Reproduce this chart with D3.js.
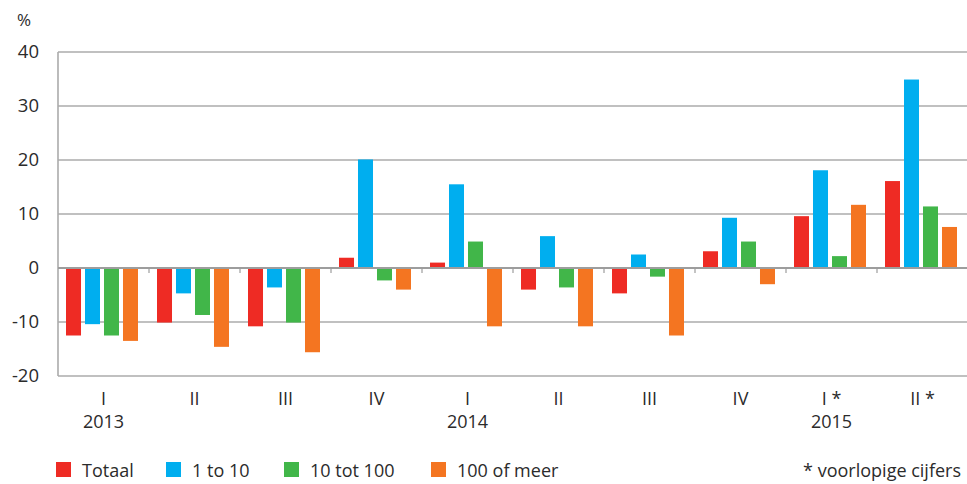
<!DOCTYPE html>
<html>
<head>
<meta charset="utf-8">
<script src="https://cdn.jsdelivr.net/npm/d3@7"></script>
<style>
  body { margin: 0; background: #fff; }
  text { font-family: "Open Sans", "Noto Sans", sans-serif; fill: #2b2b2b; }
</style>
</head>
<body>
<svg id="chart" width="967" height="484"></svg>
<script>
// ---data---
var quarters = ["I", "II", "III", "IV", "I", "II", "III", "IV", "I *", "II *"]
var years = ["2013", "", "", "", "2014", "", "", "", "2015", ""]
var seriesNames = ["Totaal", "1 to 10", "10 tot 100", "100 of meer"]
var seriesColors = ["#ee2b24", "#00aeef", "#41b649", "#f47521"]
var totaal     = [-12.5, -10.1, -10.8,  1.9,  1.0, -4.0, -4.7,  3.1,  9.6, 16.1]
var een_tot10  = [-10.4,  -4.7,  -3.6, 20.1, 15.5,  5.9,  2.5,  9.3, 18.1, 34.9]
var tien_tot100= [-12.5,  -8.7, -10.1, -2.3,  4.9, -3.6, -1.6,  4.9,  2.2, 11.4]
var honderdPlus= [-13.5, -14.6, -15.6, -4.0, -10.8, -10.8, -12.5, -3.0, 11.7, 7.6]
var yTicks = [-20, -10, 0, 10, 20, 30, 40]

var seriesValues = [totaal, een_tot10, tien_tot100, honderdPlus]

var svg = d3.select("#chart")
var plotLeft = 58, plotRight = 968, plotTop = 52, plotBottom = 376

var x0 = d3.scaleBand().domain(d3.range(quarters.length)).range([plotLeft, plotRight])
var x1 = d3.scaleBand().domain(d3.range(seriesNames.length)).range([8, 80]).paddingInner(0.21)
var y = d3.scaleLinear().domain([-20, 40]).range([plotBottom, plotTop])

//---grid---
svg.append("g").selectAll("line").data(yTicks.filter(function(d){ return d != 0 }))
  .enter().append("line")
  .attr("x1", plotLeft).attr("x2", plotRight)
  .attr("y1", function(d){ return y(d) }).attr("y2", function(d){ return y(d) })
  .attr("stroke", "#ababab").attr("stroke-width", 1.6)

svg.append("line")
  .attr("x1", plotLeft).attr("x2", plotLeft).attr("y1", y(40)).attr("y2", y(-20))
  .attr("stroke", "#ababab").attr("stroke-width", 1.6)

//---y labels---
svg.append("g").selectAll("text").data(yTicks).enter().append("text")
  .attr("x", 39).attr("y", function(d){ return y(d) + 6 })
  .attr("text-anchor", "end").attr("font-size", 18.5)
  .text(function(d){ return d })
svg.append("text").attr("x", 17).attr("y", 26).attr("font-size", 17).text("%")

//---bars---
var groups = svg.append("g").selectAll("g").data(quarters).enter().append("g")
  .attr("transform", function(d, i){ return "translate(" + x0(i) + ",0)" })
groups.selectAll("rect")
  .data(function(d, i){ return seriesValues.map(function(s, k){ return { k: k, v: s[i] } }) })
  .enter().append("rect")
  .attr("x", function(d){ return x1(d.k) })
  .attr("width", x1.bandwidth())
  .attr("y", function(d){ return y(Math.max(0, d.v)) })
  .attr("height", function(d){ return Math.abs(y(d.v) - y(0)) })
  .attr("fill", function(d){ return seriesColors[d.k] })

//---zero line + ticks---
svg.append("line")
  .attr("x1", plotLeft).attr("x2", plotRight).attr("y1", y(0)).attr("y2", y(0))
  .attr("stroke", "#9d9d9d").attr("stroke-width", 2.2)
svg.append("g").selectAll("line").data(d3.range(1, quarters.length + 1)).enter().append("line")
  .attr("x1", function(i){ return plotLeft + i * x0.bandwidth() })
  .attr("x2", function(i){ return plotLeft + i * x0.bandwidth() })
  .attr("y1", y(0)).attr("y2", y(0) + 5)
  .attr("stroke", "#9d9d9d").attr("stroke-width", 1.2)

//---x labels---
svg.append("g").selectAll("text").data(quarters).enter().append("text")
  .attr("x", function(d, i){ return x0(i) + x0.bandwidth() / 2 })
  .attr("y", 405).attr("text-anchor", "middle").attr("font-size", 18)
  .text(function(d){ return d })
svg.append("g").selectAll("text").data(years).enter().append("text")
  .attr("x", function(d, i){ return x0(i) + x0.bandwidth() / 2 })
  .attr("y", 428).attr("text-anchor", "middle").attr("font-size", 18)
  .text(function(d){ return d })

//---legend---
var legendX = [56, 166, 284, 431]
var leg = svg.append("g").selectAll("g").data(seriesNames).enter().append("g")
  .attr("transform", function(d, i){ return "translate(" + legendX[i] + ",462)" })
leg.append("rect").attr("width", 15).attr("height", 15)
  .attr("fill", function(d, i){ return seriesColors[i] })
leg.append("text").attr("x", 26).attr("y", 15).attr("font-size", 18)
  .text(function(d){ return d })
svg.append("text").attr("x", 961).attr("y", 477).attr("text-anchor", "end")
  .attr("font-size", 18).text("* voorlopige cijfers")
</script>
</body>
</html>
